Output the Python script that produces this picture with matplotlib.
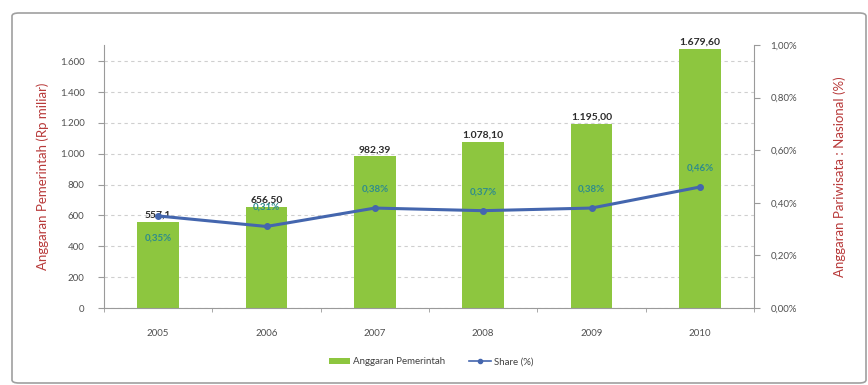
import matplotlib
matplotlib.use("Agg")
import matplotlib.pyplot as plt
from matplotlib.patches import FancyBboxPatch
from matplotlib.lines import Line2D
from matplotlib.ticker import FixedLocator, FuncFormatter

plt.rcParams['font.family'] = ['Lato', 'DejaVu Sans']

years = ['2005', '2006', '2007', '2008', '2009', '2010']
budget = [557.1, 656.50, 982.39, 1078.10, 1195.00, 1679.60]
budget_labels = ['557,1', '656,50', '982,39', '1.078,10', '1.195,00', '1.679,60']
share = [0.35, 0.31, 0.38, 0.37, 0.38, 0.46]
share_labels = ['0,35%', '0,31%', '0,38%', '0,37%', '0,38%', '0,46%']
left_ticks = [0, 200, 400, 600, 800, 1000, 1200, 1400, 1600]
right_ticks = [0.0, 0.2, 0.4, 0.6, 0.8, 1.0]

bar_color = '#8DC63F'
line_color = '#4466AE'
share_text_color = '#2E8C8C'
axis_title_color = '#B83A3A'
tick_color = '#505050'
spine_color = '#9A9A9A'

fig = plt.figure(figsize=(8.68, 3.85), dpi=100)

# outer chart border
frame = FancyBboxPatch((12 / 868, 2 / 385), 854 / 868, 370 / 385,
                       boxstyle="round,pad=0,rounding_size=0.008",
                       transform=fig.transFigure, facecolor='none',
                       edgecolor='#A0A0A0', linewidth=1.2)
fig.patches.append(frame)

ax = fig.add_axes([104 / 868, 77 / 385, 650 / 868, 263 / 385])
x = list(range(len(years)))

bars = ax.bar(x, budget, width=0.385, color=bar_color, zorder=2,
              label='Anggaran Pemerintah')
ax.set_xlim(-0.5, len(years) - 0.5)
ax.set_ylim(0, 1705)
ax.yaxis.set_major_locator(FixedLocator(left_ticks))
ax.yaxis.set_major_formatter(FuncFormatter(lambda v, p: f"{int(v):,}".replace(',', '.')))
ax.grid(axis='y', linestyle=(0, (3, 3)), color='#CFCFCF', linewidth=0.8, zorder=0)
ax.set_axisbelow(True)

ax.set_xticks(x)
ax.set_xticklabels(years)
ax.set_xticks([i + 0.5 for i in range(-1, len(years))], minor=True)
ax.tick_params(axis='x', which='major', length=0, pad=15, labelsize=7, colors=tick_color)
ax.tick_params(axis='x', which='minor', length=3, direction='out', color=spine_color)
ax.tick_params(axis='y', length=4, direction='out', color=spine_color,
               labelsize=7, colors=tick_color, pad=10)

for s in ['top', 'right']:
    ax.spines[s].set_visible(False)
for s in ['left', 'bottom']:
    ax.spines[s].set_color(spine_color)

for xi, v, lab in zip(x, budget, budget_labels):
    ax.annotate(lab, (xi, v), xytext=(0, 2), textcoords='offset pixels',
                ha='center', va='bottom', fontsize=7.5, fontweight='bold',
                color='#2B2B2B', zorder=4)

ax.set_ylabel('Anggaran Pemerintah (Rp miliar)', color=axis_title_color,
              fontsize=9.5, labelpad=8)

ax2 = ax.twinx()
line, = ax2.plot(x, share, color=line_color, linewidth=2.2, marker='o',
                 markersize=4, zorder=5, label='Share (%)')
ax2.set_ylim(0, 1.0)
ax2.yaxis.set_major_locator(FixedLocator(right_ticks))
ax2.yaxis.set_major_formatter(FuncFormatter(lambda v, p: f"{v:.2f}%".replace('.', ',')))
ax2.tick_params(axis='y', length=4, direction='out', color=spine_color,
                labelsize=7, colors=tick_color, pad=8)
for s in ['top', 'left', 'bottom']:
    ax2.spines[s].set_visible(False)
ax2.spines['right'].set_color(spine_color)

for i, (xi, v, lab) in enumerate(zip(x, share, share_labels)):
    dy = -22 if i == 0 else 19
    ax2.annotate(lab, (xi, v), xytext=(0, dy), textcoords='offset pixels',
                 ha='center', va='center', fontsize=7, fontweight='bold',
                 color=share_text_color, zorder=6)

ax2.set_ylabel('Anggaran Pariwisata : Nasional (%)', color=axis_title_color,
               fontsize=9.5, labelpad=26)

legend_line = Line2D([], [], color=line_color, linewidth=1.2, marker='o', markersize=3)
fig.legend(handles=[bars, legend_line], labels=['Anggaran Pemerintah', 'Share (%)'],
           loc='center', bbox_to_anchor=(431 / 868, 23 / 385),
           ncol=2, frameon=False, fontsize=7, handlelength=2.2, handleheight=0.6,
           columnspacing=2.5, handletextpad=0.3, labelcolor='#404040')

fig.savefig('out.png', dpi=100)
